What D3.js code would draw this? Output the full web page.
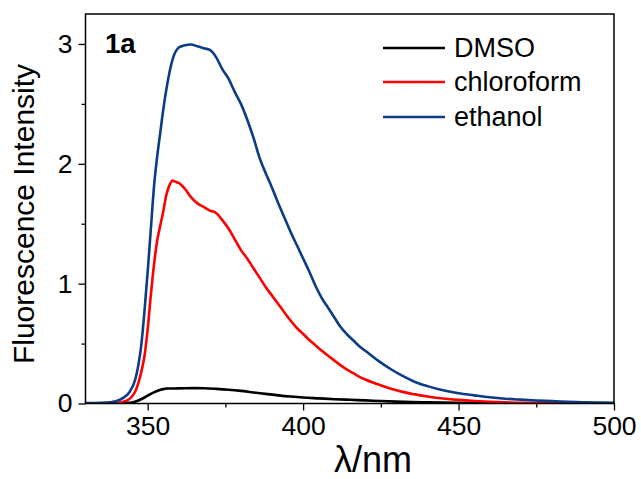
<!DOCTYPE html>
<html>
<head>
<meta charset="utf-8">
<script src="https://cdn.jsdelivr.net/npm/d3@7/dist/d3.min.js"></script>
<style>
  html, body { margin: 0; padding: 0; background: #fff; }
  svg { display: block; font-family: "Liberation Sans", Arial, sans-serif; }
</style>
</head>
<body>
<svg id="chart" width="641" height="479"></svg>
<script>
// Emission wavelengths (nm) and intensities for each solvent
const dmsoWl = [330, 340, 343, 345, 347, 349, 351, 353, 355, 356, 360, 365, 368, 372, 376, 380, 384, 388, 392, 396, 400, 405, 410, 415, 420, 425, 430, 435, 440, 450, 460, 470, 480, 500];
const dmsoI  = [0, 0.001, 0.003, 0.008, 0.025, 0.05, 0.08, 0.105, 0.12, 0.125, 0.126, 0.128, 0.127, 0.122, 0.115, 0.105, 0.092, 0.08, 0.068, 0.058, 0.05, 0.043, 0.036, 0.031, 0.026, 0.021, 0.016, 0.012, 0.009, 0.005, 0.003, 0.002, 0.001, 0];

const chloroWl = [330, 338, 340, 342, 344, 345, 346, 347, 348, 349, 350, 351, 352, 353, 354, 355, 356, 357, 358, 359, 360, 362, 364, 366, 368, 370, 372, 374, 376, 378, 380, 382, 384, 386, 388, 390, 392, 394, 396, 398, 400, 402, 404, 406, 408, 410, 412, 414, 416, 418, 420, 424, 428, 432, 436, 440, 445, 450, 455, 460, 465, 470, 480, 490, 500];
const chloroI  = [0.002, 0.004, 0.006, 0.013, 0.035, 0.06, 0.1, 0.17, 0.27, 0.4, 0.62, 0.9, 1.15, 1.35, 1.48, 1.6, 1.74, 1.82, 1.86, 1.85, 1.84, 1.79, 1.72, 1.67, 1.64, 1.61, 1.59, 1.53, 1.46, 1.37, 1.28, 1.21, 1.13, 1.05, 0.97, 0.9, 0.83, 0.76, 0.69, 0.63, 0.58, 0.53, 0.485, 0.44, 0.4, 0.36, 0.32, 0.285, 0.255, 0.225, 0.2, 0.16, 0.125, 0.097, 0.076, 0.058, 0.042, 0.03, 0.021, 0.014, 0.009, 0.006, 0.003, 0.002, 0.001];

const ethanolWl = [330, 335, 338, 340, 342, 344, 346, 347, 348, 349, 350, 351, 352, 353, 354, 355, 356, 358, 360, 362, 364, 366, 368, 370, 372, 374, 376, 378, 380, 382, 384, 386, 388, 390, 392, 394, 396, 398, 400, 402, 404, 406, 408, 410, 412, 414, 416, 418, 420, 424, 428, 432, 436, 440, 445, 450, 455, 460, 465, 470, 475, 480, 485, 490, 495, 500];
const ethanolI  = [0.003, 0.005, 0.01, 0.02, 0.045, 0.09, 0.2, 0.32, 0.5, 0.78, 1.1, 1.45, 1.8, 2.05, 2.25, 2.45, 2.62, 2.87, 2.97, 2.99, 2.995, 2.98, 2.965, 2.95, 2.89, 2.79, 2.71, 2.6, 2.5, 2.37, 2.22, 2.05, 1.92, 1.8, 1.67, 1.55, 1.43, 1.32, 1.21, 1.1, 0.98, 0.88, 0.8, 0.72, 0.64, 0.58, 0.53, 0.48, 0.44, 0.36, 0.29, 0.23, 0.18, 0.145, 0.11, 0.085, 0.068, 0.052, 0.04, 0.032, 0.025, 0.02, 0.015, 0.011, 0.008, 0.006];

const seriesNames = ["DMSO", "chloroform", "ethanol"];
const seriesColors = ["#000000", "#ff0000", "#0c3b87"];

const xMajorTicks = [350, 400, 450, 500];
const xMinorTicks = [375, 425, 475];
const yMajorTicks = [0, 1, 2, 3];
const yMinorTicks = [0.5, 1.5, 2.5];

const series = [
  { name: seriesNames[0], color: seriesColors[0], pts: dmsoWl.map((w, i) => [w, dmsoI[i]]) },
  { name: seriesNames[1], color: seriesColors[1], pts: chloroWl.map((w, i) => [w, chloroI[i]]) },
  { name: seriesNames[2], color: seriesColors[2], pts: ethanolWl.map((w, i) => [w, ethanolI[i]]) }
];

const svg = d3.select("#chart");
const plot = { left: 85.5, right: 614, top: 14, bottom: 403.5 };

const x = d3.scaleLinear().domain([330, 500]).range([plot.left, plot.right]);
const y = d3.scaleLinear().domain([0, 3.25]).range([plot.bottom, plot.top]);

// Clip curves to the plotting frame
svg.append("defs").append("clipPath").attr("id", "clip")
  .append("rect")
  .attr("x", plot.left).attr("y", plot.top)
  .attr("width", plot.right - plot.left).attr("height", plot.bottom - plot.top);

const line = d3.line().x(d => x(d[0])).y(d => y(d[1])).curve(d3.curveMonotoneX);

const curves = svg.append("g").attr("clip-path", "url(#clip)");
series.forEach(s => {
  curves.append("path")
    .datum(s.pts)
    .attr("fill", "none")
    .attr("stroke", s.color)
    .attr("stroke-width", 2.6)
    .attr("stroke-linejoin", "round")
    .attr("d", line);
});

// Axes: major ticks with labels, minor ticks without
const tickFont = 26.5;
const xAxis = d3.axisBottom(x).tickValues(xMajorTicks).tickSize(7).tickPadding(6).tickFormat(d3.format("d"));
const xMinor = d3.axisBottom(x).tickValues(xMinorTicks).tickSize(4).tickFormat("");
const yAxis = d3.axisLeft(y).tickValues(yMajorTicks).tickSize(7).tickPadding(6).tickFormat(d3.format("d"));
const yMinor = d3.axisLeft(y).tickValues(yMinorTicks).tickSize(4).tickFormat("");

function styleAxis(g) {
  g.select(".domain").remove();
  g.selectAll(".tick line").attr("stroke", "#000").attr("stroke-width", 1.3);
  g.selectAll(".tick text").attr("fill", "#000").style("font-size", tickFont + "px")
    .style("font-family", "'Liberation Sans', Arial, sans-serif");
}

svg.append("g").attr("transform", `translate(0,${plot.bottom})`).call(xAxis).call(styleAxis);
svg.append("g").attr("transform", `translate(0,${plot.bottom})`).call(xMinor).call(styleAxis);
svg.append("g").attr("transform", `translate(${plot.left},0)`).call(yAxis).call(styleAxis);
svg.append("g").attr("transform", `translate(${plot.left},0)`).call(yMinor).call(styleAxis);

// Frame around the plotting area
svg.append("rect")
  .attr("x", plot.left).attr("y", plot.top)
  .attr("width", plot.right - plot.left).attr("height", plot.bottom - plot.top)
  .attr("fill", "none").attr("stroke", "#000").attr("stroke-width", 1.5);

// Axis titles
svg.append("text")
  .attr("x", 373).attr("y", 472)
  .attr("text-anchor", "middle")
  .style("font-size", "36px")
  .text("λ/nm");

svg.append("text")
  .attr("transform", "translate(34,214) rotate(-90)")
  .attr("text-anchor", "middle")
  .style("font-size", "30px")
  .text("Fluorescence Intensity");

// Panel label
svg.append("text")
  .attr("x", 105).attr("y", 53)
  .style("font-size", "27.5px").style("font-weight", "bold")
  .text("1a");

// Legend
const legendY = [48, 82, 117];
const legend = svg.append("g");
series.forEach((s, i) => {
  legend.append("line")
    .attr("x1", 383).attr("x2", 445)
    .attr("y1", legendY[i]).attr("y2", legendY[i])
    .attr("stroke", s.color).attr("stroke-width", 2.6);
  legend.append("text")
    .attr("x", 454).attr("y", legendY[i] + 9)
    .style("font-size", "27px")
    .text(s.name);
});
</script>
</body>
</html>
